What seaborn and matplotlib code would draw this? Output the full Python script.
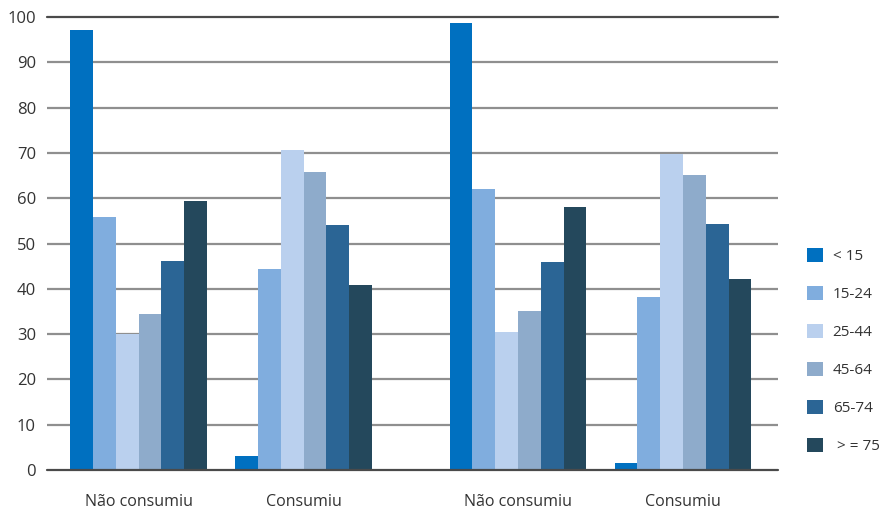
import matplotlib
matplotlib.use("Agg")
import matplotlib.pyplot as plt
import seaborn as sns
import pandas as pd

# Groups along the x axis (two blocks of "Não consumiu" / "Consumiu")
groups = ["Não consumiu", "Consumiu", "Não consumiu", "Consumiu"]
group_pos = [0.0, 1.0, 2.3, 3.3]

# Age classes
ages = ["< 15", "15-24", "25-44", "45-64", "65-74", " > = 75"]
colors = ["#0070C0", "#80ADDE", "#BAD0EE", "#8EABCB", "#2B6595", "#24485C"]

# Percentages per age class, one list per group
nao_consumiu_1 = [97.2, 55.8, 30.0, 34.4, 46.1, 59.4]
consumiu_1 = [3.0, 44.4, 70.6, 65.8, 54.1, 40.8]
nao_consumiu_2 = [98.7, 62.0, 30.5, 35.1, 45.9, 58.1]
consumiu_2 = [1.5, 38.2, 69.8, 65.1, 54.3, 42.2]

series = [nao_consumiu_1, consumiu_1, nao_consumiu_2, consumiu_2]
rows = []
for pos, vals in zip(group_pos, series):
    for age, v in zip(ages, vals):
        rows.append({"pos": pos, "idade": age, "valor": v})
df = pd.DataFrame(rows)

sns.set_theme(style="white")
plt.rcParams["font.family"] = ["Open Sans", "DejaVu Sans"]

fig = plt.figure(figsize=(8.87, 5.14), dpi=100)
ax = fig.add_axes([47 / 887, 44 / 514, (778 - 47) / 887, (470 - 17) / 514])

# Horizontal grid lines
for y in range(10, 100, 10):
    ax.axhline(y, color="#8f8f8f", lw=1.6, zorder=0)
for y in (0, 100):
    ax.axhline(y, color="#4a4a4a", lw=1.6, zorder=3, clip_on=False)

sns.barplot(
    data=df, x="pos", y="valor", hue="idade", hue_order=ages,
    palette=colors, saturation=1, width=0.83, native_scale=True,
    linewidth=0, ax=ax, zorder=2, legend=True,
)

ax.set_xlim(-0.555, 3.876)
ax.set_ylim(0, 100)
ax.set_yticks(range(0, 101, 10))
ax.set_yticklabels([str(v) for v in range(0, 101, 10)], fontsize=12, color="#333333")
ax.set_xticks(group_pos)
ax.set_xticklabels(groups, fontsize=11.5, color="#333333")
ax.tick_params(axis="x", length=0, pad=17)
ax.tick_params(axis="y", length=0, pad=8)
ax.set_xlabel("")
ax.set_ylabel("")
for s in ax.spines.values():
    s.set_visible(False)

handles, labels = ax.get_legend_handles_labels()
ax.get_legend().remove()
fig.legend(
    handles, labels, loc="upper left", bbox_to_anchor=(793 / 887, 1 - 234 / 514),
    frameon=False, fontsize=11, handlelength=1.05, handleheight=1.05,
    labelspacing=1.42, handletextpad=0.65, labelcolor="#333333",
)

fig.savefig("out.png", dpi=100)
